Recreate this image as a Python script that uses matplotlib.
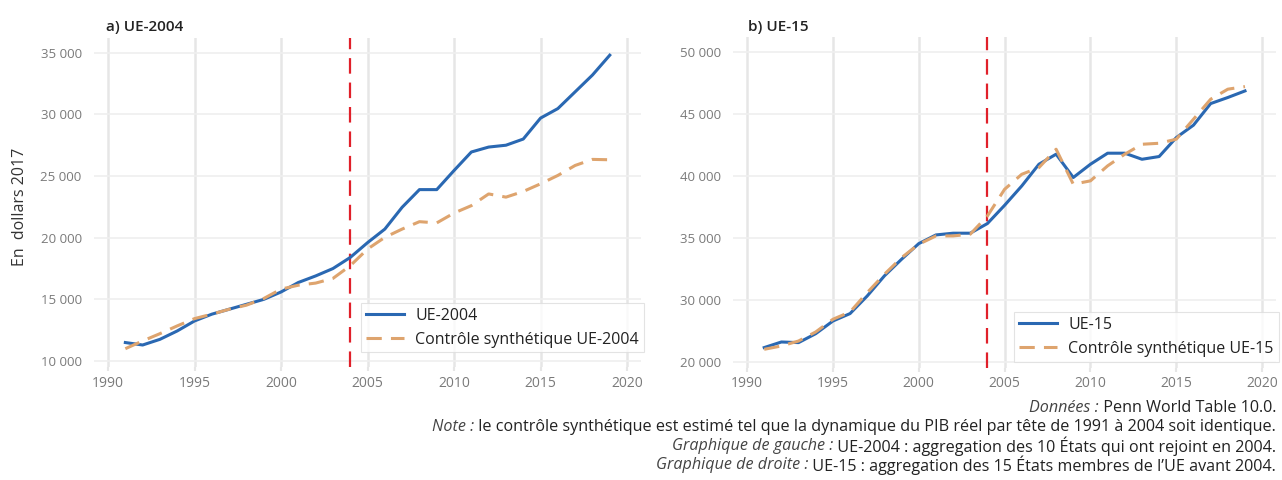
import matplotlib
matplotlib.use("Agg")
import matplotlib.pyplot as plt

plt.rcParams['font.family'] = ['Open Sans', 'DejaVu Sans']

years = list(range(1991, 2020))

ue2004 = [11500, 11300, 11760, 12440, 13250, 13800, 14200, 14600, 15000, 15600,
          16370, 16900, 17500, 18400, 19600, 20700, 22470, 23900, 23900, 25450,
          26950, 27350, 27500, 28000, 29700, 30470, 31830, 33190, 34800]
synth2004 = [11000, 11630, 12220, 12850, 13440, 13800, 14200, 14530, 15070, 15830,
             16150, 16320, 16700, 17730, 19080, 20030, 20700, 21300, 21200, 22000,
             22600, 23550, 23290, 23750, 24370, 25050, 25860, 26350, 26320]

ue15 = [26160, 26610, 26560, 27280, 28300, 28900, 30320, 31940, 33280, 34540,
        35240, 35380, 35380, 36160, 37630, 39190, 40940, 41750, 39870, 40940,
        41830, 41830, 41340, 41560, 43090, 44090, 45830, 46320, 46850]
synth15 = [26020, 26290, 26690, 27420, 28440, 29030, 30590, 32070, 33410, 34490,
           35160, 35160, 35300, 36770, 38920, 40130, 40670, 42150, 39330, 39600,
           40810, 41750, 42550, 42630, 42960, 44570, 46180, 46990, 47200]

xticks = [1990, 1995, 2000, 2005, 2010, 2015, 2020]
yticks_left = [10000, 15000, 20000, 25000, 30000, 35000]
ytick_labels_left = ["10 000", "15 000", "20 000", "25 000", "30 000", "35 000"]
yticks_right = [25000, 30000, 35000, 40000, 45000, 50000]
ytick_labels_right = ["20 000", "30 000", "35 000", "40 000", "45 000", "50 000"]

treat_year = 2004

BLUE = "#2a68b2"
ORANGE = "#dea46e"
RED = "#e0202a"
GRID = "#e6e6e6"
TICKC = "#7a7a7a"

fig = plt.figure(figsize=(12.82, 4.8), dpi=100)
axL = fig.add_axes([94.2 / 1282, 0.235, 546.7 / 1282, 0.686])
axR = fig.add_axes([733.3 / 1282, 0.233, 542.6 / 1282, 0.690])

def style(ax, yt, ytl, ylim):
    ax.set_xlim(1989.2, 2020.8)
    ax.set_ylim(*ylim)
    ax.set_xticks(xticks)
    ax.set_xticklabels([str(x) for x in xticks])
    ax.set_yticks(yt)
    ax.set_yticklabels(ytl)
    for s in ax.spines.values():
        s.set_visible(False)
    ax.grid(True, axis='y', color="#efefef", lw=1.2)
    ax.grid(True, axis='x', color=GRID, lw=1.8)
    ax.set_axisbelow(True)
    ax.tick_params(axis='y', length=0, labelsize=9.5, colors=TICKC, pad=9)
    ax.tick_params(axis='x', length=3, color=GRID, labelcolor=TICKC, width=1.5,
                   labelsize=10, pad=3)

def draw(ax, s1, s2, lab1, lab2, leg_y):
    ax.axvline(treat_year, color=RED, lw=1.6, dashes=(7, 4), zorder=1)
    ax.plot(years, s1, color=BLUE, lw=2.2, label=lab1, zorder=3)
    ax.plot(years, s2, color=ORANGE, lw=2.2, dashes=(5, 3), label=lab2, zorder=4)
    leg = ax.legend(loc='lower right', bbox_to_anchor=(1.005, leg_y), fontsize=11.5,
                    frameon=True, fancybox=False, edgecolor="#dddddd",
                    handlelength=2.4, borderpad=0.3, labelspacing=0.5,
                    handletextpad=0.7, borderaxespad=0.0)
    leg.get_frame().set_linewidth(0.8)
    for t in leg.get_texts():
        t.set_color("#222222")

style(axL, yticks_left, ytick_labels_left, (9500, 36200))
style(axR, yticks_right, ytick_labels_right, (24500, 51200))
draw(axL, ue2004, synth2004, "UE-2004", "Contrôle synthétique UE-2004", 0.045)
draw(axR, ue15, synth15, "UE-15", "Contrôle synthétique UE-15", 0.02)

fig.text(106 / 1282, 1 - 27 / 480, "a) UE-2004", fontsize=11, fontweight='semibold',
         color="#222222", va='center', ha='left')
fig.text(748 / 1282, 1 - 27 / 480, "b) UE-15", fontsize=11, fontweight='semibold',
         color="#222222", va='center', ha='left')
fig.text(20 / 1282, 1 - 207 / 480, "En  dollars 2017", fontsize=11.5, rotation=90,
         color="#333333", va='center', ha='center')

notes = [
    ("Données :", " Penn World Table 10.0."),
    ("Note :", " le contrôle synthétique est estimé tel que la dynamique du PIB réel par tête de 1991 à 2004 soit identique."),
    ("Graphique de gauche :", " UE-2004 : aggregation des 10 États qui ont rejoint en 2004."),
    ("Graphique de droite :", " UE-15 : aggregation des 15 États membres de l’UE avant 2004."),
]
note_y = [408, 427, 446, 465]

fig.canvas.draw()
renderer = fig.canvas.get_renderer()
xr = 1276 / 1282
for (it, reg), yy in zip(notes, note_y):
    yf = 1 - yy / 480
    t = fig.text(xr, yf, reg, fontsize=11.6, color="#222222", ha='right', va='center')
    bb = t.get_window_extent(renderer)
    xl = bb.x0 / fig.bbox.width
    fig.text(xl, yf, it, fontsize=11.6, color="#444444", style='italic',
             ha='right', va='center')

fig.savefig("out.png", dpi=100, facecolor='white')
